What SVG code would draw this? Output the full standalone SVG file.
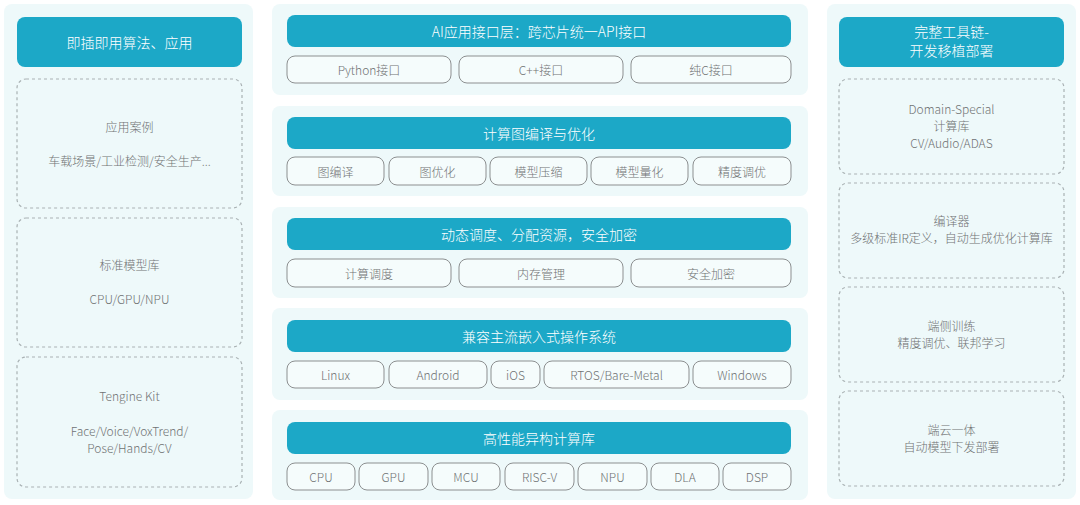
<svg xmlns="http://www.w3.org/2000/svg" width="1080" height="505" viewBox="0 0 1080 505">
<style>
.bg{fill:#ffffff}
.panel{fill:#eef9fa}
.head{fill:#1ca8c7}
.sub{fill:#f5fcfc;stroke:#8c8f90;stroke-width:1}
.dash{fill:#eef9fa;stroke:#a9b1b3;stroke-width:1.2;stroke-dasharray:3 3}
text{font-family:"Noto Sans CJK SC","Noto Sans",sans-serif;text-anchor:middle;dominant-baseline:central;font-weight:300}
.ht{fill:#ffffff;font-size:14px}
.st{fill:#707374;font-size:12px}
</style>
<rect class="bg" x="0" y="0" width="1080" height="505"/>

<g id="left-column">
<rect class="panel" x="4" y="4" width="249" height="495" rx="8"/>
<g id="left-header">
<rect class="head" x="17" y="17" width="225" height="50" rx="8"/>
<text class="ht" x="129.5" y="42">即插即用算法、应用</text>
</g>
<g id="app-cases">
<rect class="dash" x="17" y="79" width="225" height="129" rx="9"/>
<text class="st" x="129.5" y="126">应用案例</text>
<text class="st" x="129.5" y="160">车载场景/工业检测/安全生产...</text>
</g>
<g id="model-zoo">
<rect class="dash" x="17" y="218" width="225" height="129" rx="9"/>
<text class="st" x="129.5" y="264">标准模型库</text>
<text class="st" x="129.5" y="298">CPU/GPU/NPU</text>
</g>
<g id="tengine-kit">
<rect class="dash" x="17" y="357" width="225" height="130" rx="9"/>
<text class="st" x="129.5" y="395">Tengine Kit</text>
<text class="st" x="129.5" y="430">Face/Voice/VoxTrend/</text>
<text class="st" x="129.5" y="447">Pose/Hands/CV</text>
</g>
</g>

<g id="layer-api">
<rect class="panel" x="272" y="4" width="536" height="91" rx="8"/>
<rect class="head" x="287" y="15" width="504" height="32" rx="8"/>
<text class="ht" x="539" y="31">AI应用接口层：跨芯片统一API接口</text>
<rect class="sub" x="287" y="56" width="164" height="27" rx="8"/>
<text class="st" x="369" y="69.5">Python接口</text>
<rect class="sub" x="459" y="56" width="164" height="27" rx="8"/>
<text class="st" x="541" y="69.5">C++接口</text>
<rect class="sub" x="631" y="56" width="160" height="27" rx="8"/>
<text class="st" x="711" y="69.5">纯C接口</text>
</g>

<g id="layer-graph">
<rect class="panel" x="272" y="106" width="536" height="90" rx="8"/>
<rect class="head" x="287" y="117" width="504" height="32" rx="8"/>
<text class="ht" x="539" y="133">计算图编译与优化</text>
<rect class="sub" x="287" y="157" width="97" height="28" rx="8"/>
<text class="st" x="335.5" y="171">图编译</text>
<rect class="sub" x="389" y="157" width="97" height="28" rx="8"/>
<text class="st" x="437.5" y="171">图优化</text>
<rect class="sub" x="490" y="157" width="97" height="28" rx="8"/>
<text class="st" x="538.5" y="171">模型压缩</text>
<rect class="sub" x="591" y="157" width="97" height="28" rx="8"/>
<text class="st" x="639.5" y="171">模型量化</text>
<rect class="sub" x="693" y="157" width="98" height="28" rx="8"/>
<text class="st" x="742" y="171">精度调优</text>
</g>

<g id="layer-runtime">
<rect class="panel" x="272" y="207" width="536" height="91" rx="8"/>
<rect class="head" x="287" y="218" width="504" height="32" rx="8"/>
<text class="ht" x="539" y="234">动态调度、分配资源，安全加密</text>
<rect class="sub" x="287" y="259" width="164" height="28" rx="8"/>
<text class="st" x="369" y="273">计算调度</text>
<rect class="sub" x="459" y="259" width="164" height="28" rx="8"/>
<text class="st" x="541" y="273">内存管理</text>
<rect class="sub" x="631" y="259" width="160" height="28" rx="8"/>
<text class="st" x="711" y="273">安全加密</text>
</g>

<g id="layer-os">
<rect class="panel" x="272" y="308" width="536" height="92" rx="8"/>
<rect class="head" x="287" y="320" width="504" height="32" rx="8"/>
<text class="ht" x="539" y="336">兼容主流嵌入式操作系统</text>
<rect class="sub" x="287" y="361" width="97" height="27" rx="8"/>
<text class="st" x="335.5" y="374.5">Linux</text>
<rect class="sub" x="389" y="361" width="98" height="27" rx="8"/>
<text class="st" x="438" y="374.5">Android</text>
<rect class="sub" x="491" y="361" width="49" height="27" rx="8"/>
<text class="st" x="515.5" y="374.5">iOS</text>
<rect class="sub" x="544" y="361" width="145" height="27" rx="8"/>
<text class="st" x="616.5" y="374.5">RTOS/Bare-Metal</text>
<rect class="sub" x="693" y="361" width="98" height="27" rx="8"/>
<text class="st" x="742" y="374.5">Windows</text>
</g>

<g id="layer-hw">
<rect class="panel" x="272" y="410" width="536" height="90" rx="8"/>
<rect class="head" x="287" y="422" width="504" height="32" rx="8"/>
<text class="ht" x="539" y="438">高性能异构计算库</text>
<rect class="sub" x="287" y="463" width="68" height="27" rx="8"/>
<text class="st" x="321" y="476.5">CPU</text>
<rect class="sub" x="359" y="463" width="69" height="27" rx="8"/>
<text class="st" x="393.5" y="476.5">GPU</text>
<rect class="sub" x="432" y="463" width="68" height="27" rx="8"/>
<text class="st" x="466" y="476.5">MCU</text>
<rect class="sub" x="505" y="463" width="69" height="27" rx="8"/>
<text class="st" x="539.5" y="476.5">RISC-V</text>
<rect class="sub" x="578" y="463" width="69" height="27" rx="8"/>
<text class="st" x="612.5" y="476.5">NPU</text>
<rect class="sub" x="651" y="463" width="68" height="27" rx="8"/>
<text class="st" x="685" y="476.5">DLA</text>
<rect class="sub" x="723" y="463" width="68" height="27" rx="8"/>
<text class="st" x="757" y="476.5">DSP</text>
</g>

<g id="right-column">
<rect class="panel" x="827" y="4" width="249" height="495" rx="8"/>
<g id="right-header">
<rect class="head" x="839" y="17" width="225" height="50" rx="8"/>
<text class="ht" x="951.5" y="30.5">完整工具链-</text>
<text class="ht" x="951.5" y="49.5">开发移植部署</text>
</g>
<g id="domain-lib">
<rect class="dash" x="839" y="79" width="225" height="95" rx="9"/>
<text class="st" x="951.5" y="108">Domain-Special</text>
<text class="st" x="951.5" y="125">计算库</text>
<text class="st" x="951.5" y="142">CV/Audio/ADAS</text>
</g>
<g id="compiler">
<rect class="dash" x="839" y="183" width="225" height="95" rx="9"/>
<text class="st" x="951.5" y="220">编译器</text>
<text class="st" x="951.5" y="237">多级标准IR定义，自动生成优化计算库</text>
</g>
<g id="edge-training">
<rect class="dash" x="839" y="287" width="225" height="95" rx="9"/>
<text class="st" x="951.5" y="325">端侧训练</text>
<text class="st" x="951.5" y="342">精度调优、联邦学习</text>
</g>
<g id="edge-cloud">
<rect class="dash" x="839" y="391" width="225" height="95" rx="9"/>
<text class="st" x="951.5" y="429">端云一体</text>
<text class="st" x="951.5" y="446">自动模型下发部署</text>
</g>
</g>

<g id="connectors"></g>
</svg>
